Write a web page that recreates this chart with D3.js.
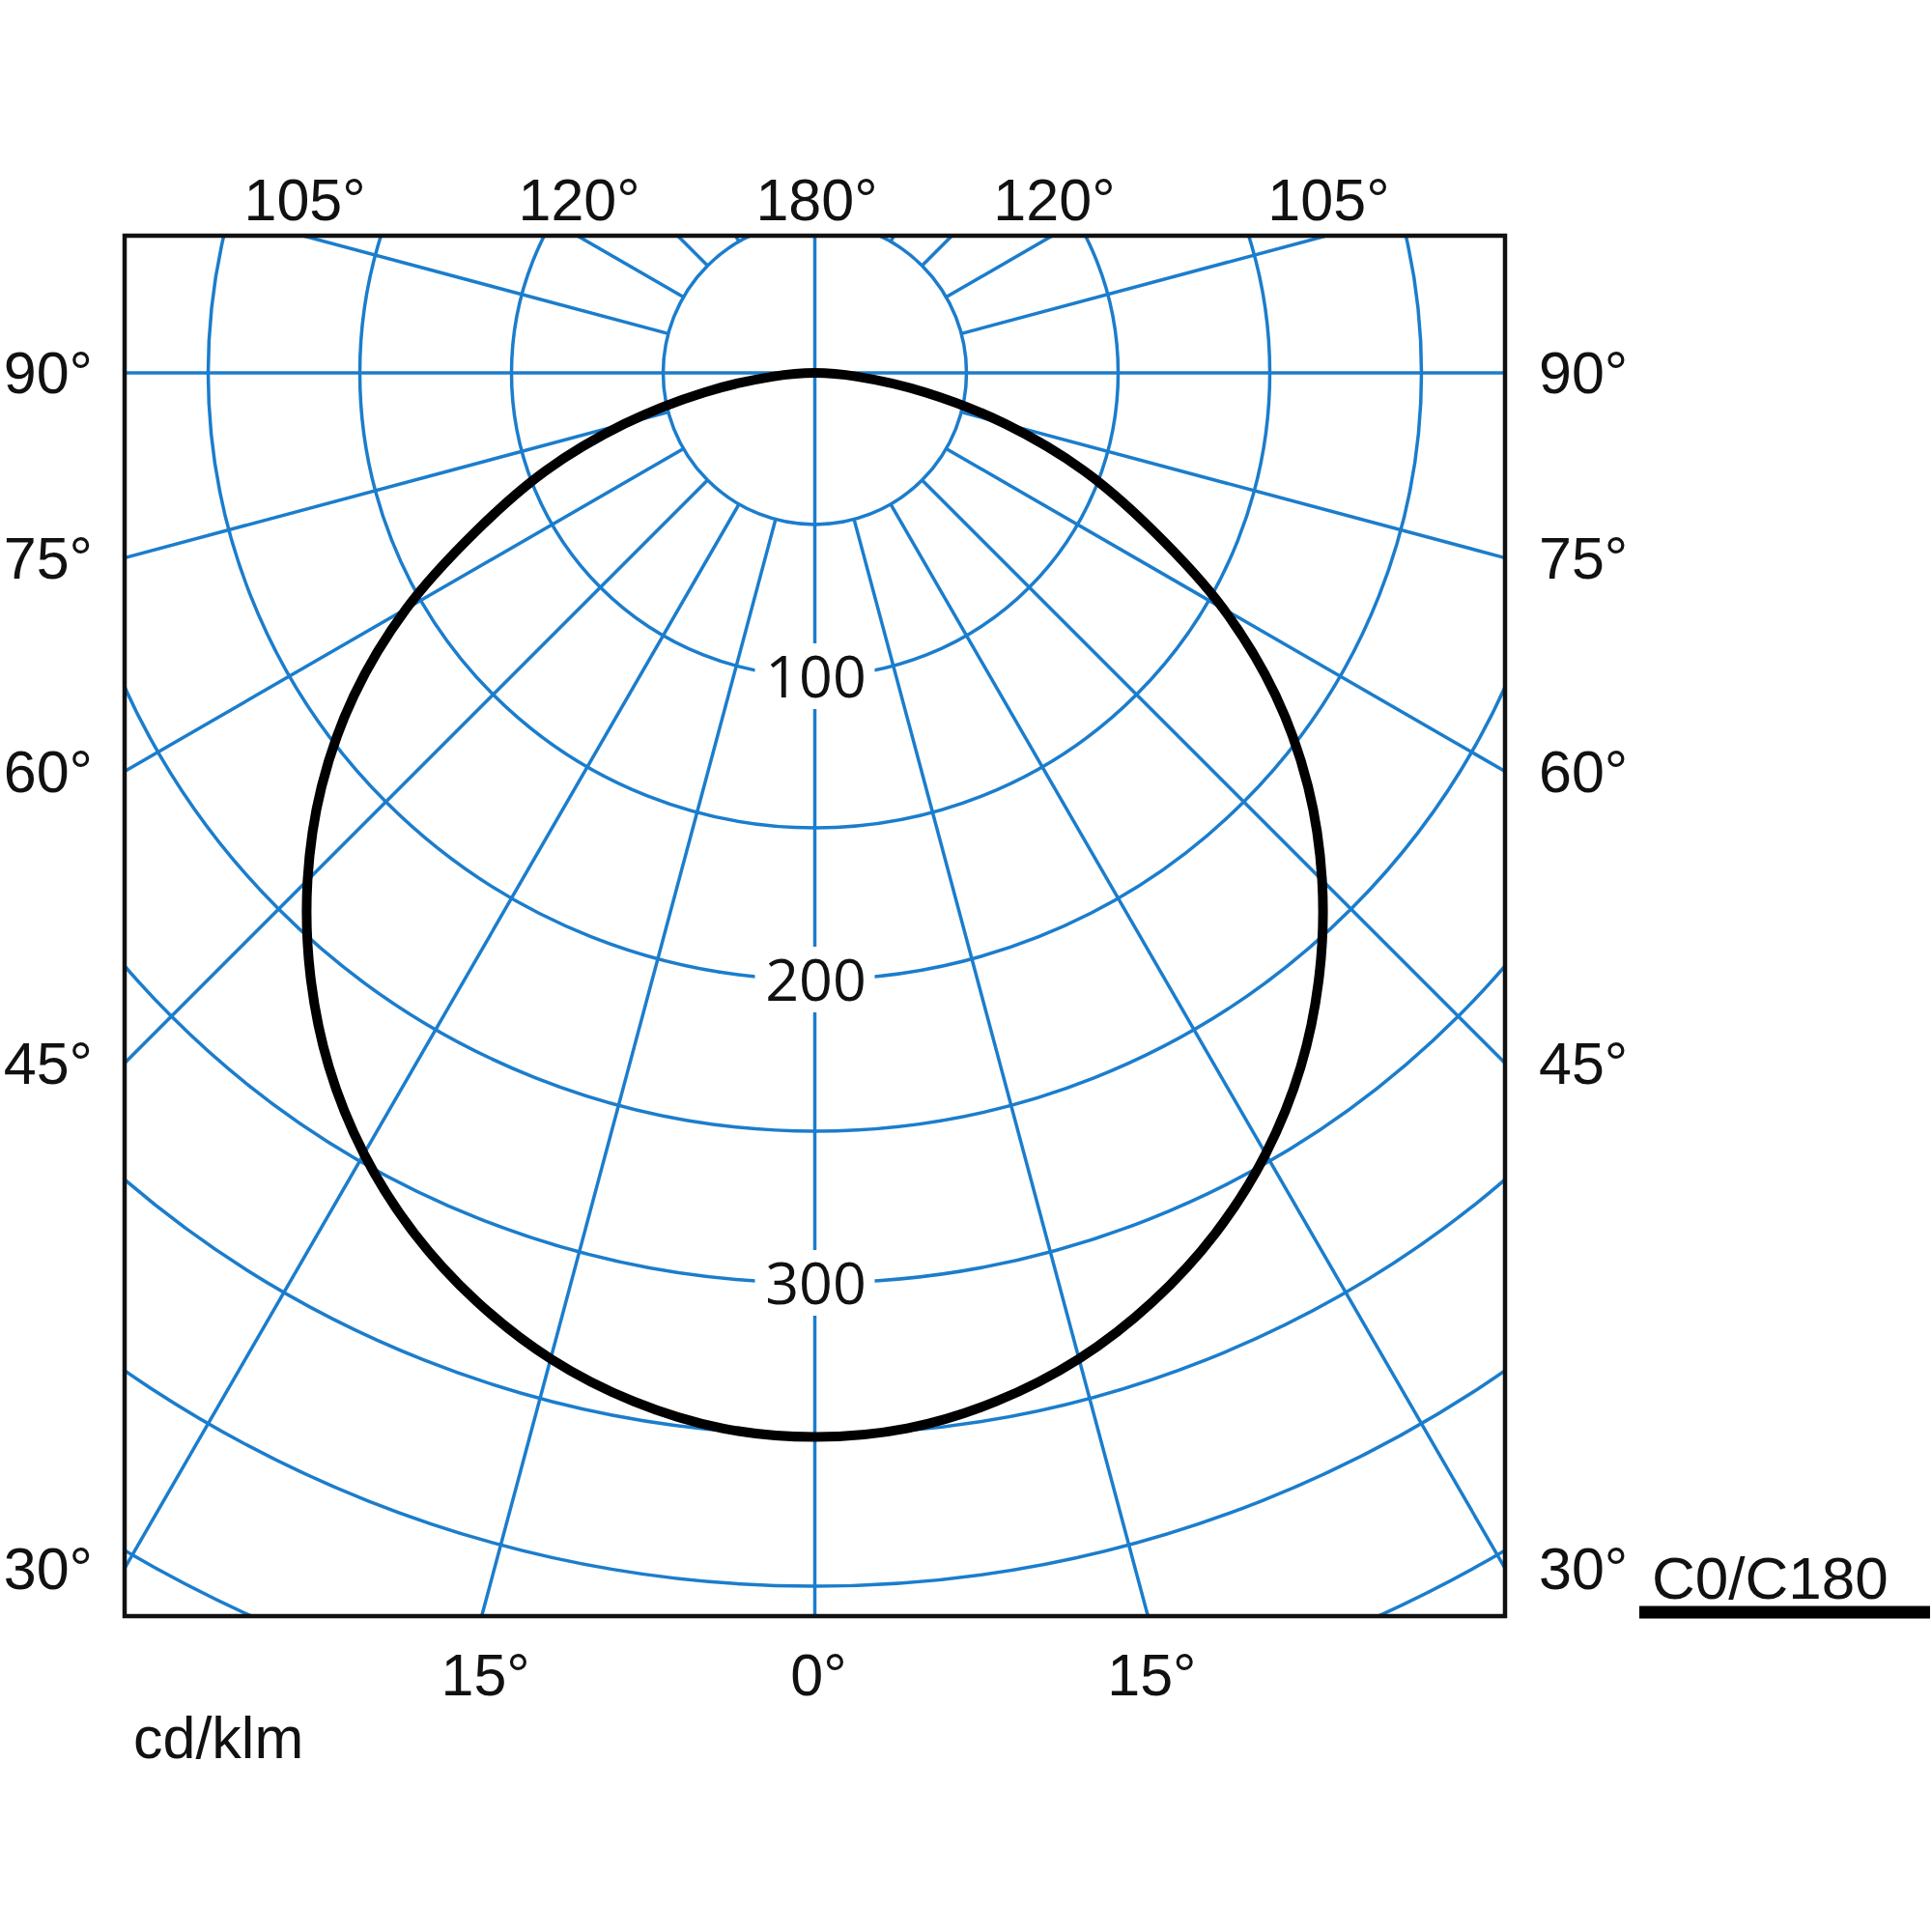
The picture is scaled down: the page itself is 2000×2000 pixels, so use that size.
<!DOCTYPE html>
<html>
<head>
<meta charset="utf-8">
<style>
  body { margin: 0; background: #fff; }
  text { font-family: "Liberation Sans", Arial, sans-serif; fill: #111; }
</style>
</head>
<body>
<div id="container"></div>
<script src="https://d3js.org/d3.v7.js"></script>
<script>

// Intensity (cd/klm) against gamma angle, C0/C180 plane (symmetric)
const gammaDeg = [0, 5, 10, 15, 20, 25, 30, 35, 40, 45, 50, 55, 60, 65, 70, 75, 80, 85, 90];
const intensity = [350.8, 349.3, 344.3, 336.5, 325.8, 312.8, 297.3, 279.3, 258.8, 236.5, 212.3, 185.5, 155.5, 123, 94.5, 65, 37, 14, 0];

// grid
const ringValues = [50, 100, 150, 200, 250, 300, 350, 400, 450];
const ringLabels = [100, 200, 300];
const spokeAngles = [0, 15, 30, 45, 60, 75, 90, 105, 120, 135, 150, 165, 180];

// tick labels round the frame
const topTicks = [105, 120, 180, 120, 105];
const topSides = [-1, -1, 0, 1, 1];
const sideTicks = [90, 75, 60, 45, 30];
const bottomTicks = [15, 0, 15];
const bottomSides = [-1, 0, 1];
const unitLabel = "cd/klm";
const planeLabel = "C0/C180";

const width = 2000;
const height = 2000;
const boxLeft = 129;
const boxTop = 244;
const boxSize = 1429;
const cx = boxLeft + boxSize / 2;
const cy = 386;
const blue = "#1b7dcc";

const r = d3.scaleLinear().domain([0, 100]).range([0, 314]);
const rad = d => d * Math.PI / 180;

const svg = d3.create("svg")
    .attr("width", width)
    .attr("height", height)
    .style("background", "#fff");

svg.append("clipPath")
    .attr("id", "box")
  .append("rect")
    .attr("x", boxLeft)
    .attr("y", boxTop)
    .attr("width", boxSize)
    .attr("height", boxSize);

const grid = svg.append("g")
    .attr("clip-path", "url(#box)")
    .attr("fill", "none")
    .attr("stroke", blue)
    .attr("stroke-width", 3.5);

// rings
grid.selectAll("circle")
  .data(ringValues)
  .join("circle")
    .attr("cx", cx)
    .attr("cy", cy)
    .attr("r", d => r(d));

// spokes, both sides; gamma 0 points down
const spokes = [];
spokeAngles.forEach(a => {
  const full = a === 0 || a === 90 || a === 180;
  spokes.push({a, s: 1, r0: full ? 0 : r(50)});
  if (a !== 0 && a !== 180) spokes.push({a, s: -1, r0: full ? 0 : r(50)});
});
grid.selectAll("line")
  .data(spokes)
  .join("line")
    .attr("x1", d => cx + d.s * d.r0 * Math.sin(rad(d.a)))
    .attr("y1", d => cy + d.r0 * Math.cos(rad(d.a)))
    .attr("x2", d => cx + d.s * 2500 * Math.sin(rad(d.a)))
    .attr("y2", d => cy + 2500 * Math.cos(rad(d.a)));

// ring value labels on the 0 degree axis
const lab = svg.append("g");
lab.selectAll("rect")
  .data(ringLabels)
  .join("rect")
    .attr("x", cx - 62)
    .attr("y", d => cy + r(d) - 34)
    .attr("width", 124)
    .attr("height", 68)
    .attr("fill", "#fff");
lab.selectAll("text")
  .data(ringLabels)
  .join("text")
    .attr("x", cx + 1)
    .attr("y", d => cy + r(d))
    .attr("dy", "0.36em")
    .attr("text-anchor", "middle")
    .style("font-family", "'Open Sans', 'Noto Sans', sans-serif")
    .style("font-size", "61px")
    .text(d => d);

// luminous intensity curve
const pts = [];
gammaDeg.forEach((g, i) => pts.push({ang: Math.PI - rad(g), v: intensity[i]}));
for (let i = gammaDeg.length - 2; i > 0; i--) {
  pts.push({ang: Math.PI + rad(gammaDeg[i]), v: intensity[i]});
}
const curve = d3.lineRadial()
    .angle(d => d.ang)
    .radius(d => r(d.v))
    .curve(d3.curveCatmullRomClosed);

svg.append("path")
    .attr("transform", `translate(${cx},${cy})`)
    .attr("d", curve(pts))
    .attr("fill", "none")
    .attr("stroke", "#000")
    .attr("stroke-width", 10)
    .attr("stroke-linejoin", "round");

// frame
svg.append("rect")
    .attr("x", boxLeft)
    .attr("y", boxTop)
    .attr("width", boxSize)
    .attr("height", boxSize)
    .attr("fill", "none")
    .attr("stroke", "#111")
    .attr("stroke-width", 4.5);

const fs = "61px";

// top ticks
svg.append("g").selectAll("text")
  .data(topTicks)
  .join("text")
    .attr("x", (d, i) => cx + topSides[i] * (cy - boxTop) * Math.tan(rad(180 - d)) + 2)
    .attr("y", 228)
    .attr("text-anchor", "middle")
    .style("font-size", fs)
    .text(d => d + "°");

// side ticks, left and right
const sideY = d => cy + (boxSize / 2) / Math.tan(rad(d));
svg.append("g").selectAll("text")
  .data(sideTicks)
  .join("text")
    .attr("x", 96)
    .attr("y", d => sideY(d))
    .attr("dy", "0.35em")
    .attr("text-anchor", "end")
    .style("font-size", fs)
    .text(d => d + "°");
svg.append("g").selectAll("text")
  .data(sideTicks)
  .join("text")
    .attr("x", 1593)
    .attr("y", d => sideY(d))
    .attr("dy", "0.35em")
    .attr("text-anchor", "start")
    .style("font-size", fs)
    .text(d => d + "°");

// bottom ticks
svg.append("g").selectAll("text")
  .data(bottomTicks)
  .join("text")
    .attr("x", (d, i) => cx + bottomSides[i] * (boxTop + boxSize - cy) * Math.tan(rad(d)) + 4)
    .attr("y", 1755)
    .attr("text-anchor", "middle")
    .style("font-size", fs)
    .text(d => d + "°");

svg.append("text")
    .attr("x", 138)
    .attr("y", 1820)
    .style("font-size", fs)
    .text(unitLabel);

// legend
svg.append("text")
    .attr("x", 1710)
    .attr("y", 1655)
    .style("font-size", "62px")
    .text(planeLabel);
svg.append("line")
    .attr("x1", 1697)
    .attr("x2", 1998)
    .attr("y1", 1669)
    .attr("y2", 1669)
    .attr("stroke", "#000")
    .attr("stroke-width", 13);

document.getElementById("container").append(svg.node());
</script>
</body>
</html>
